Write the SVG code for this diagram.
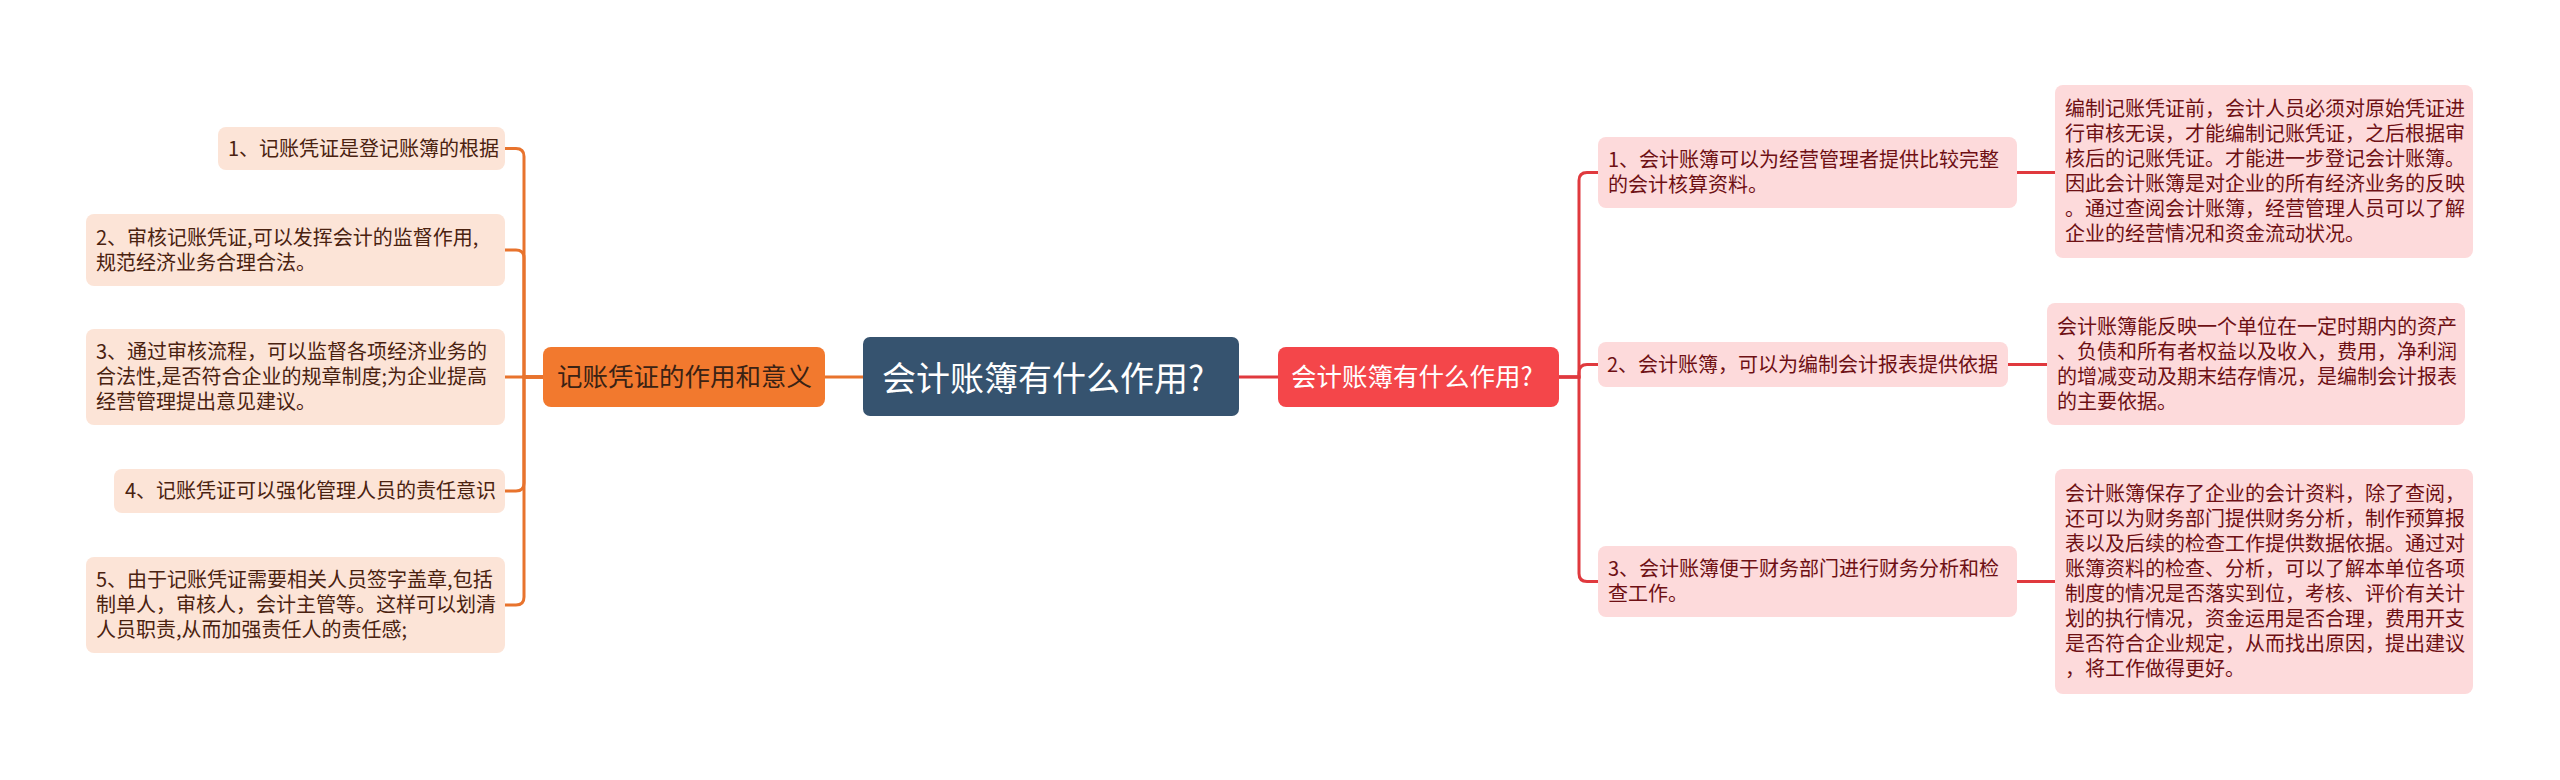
<svg xmlns="http://www.w3.org/2000/svg" width="2560" height="780" viewBox="0 0 2560 780">
<style>
text{font-family:"Noto Sans CJK SC","Noto Sans",sans-serif}
.lc rect{fill:#FCE4D7}
.lc text{fill:#4A2210;font-size:20px}
.rc rect{fill:#FDDADB}
.rc text{fill:#6E1014;font-size:20px}
.ol{fill:none;stroke:#E8732D;stroke-width:3}
.rl{fill:none;stroke:#E0393E;stroke-width:3}
</style>
<rect width="2560" height="780" fill="#ffffff"/>
<g id="connectors">
<path class="ol" d="M864 377 H825"/>
<path class="rl" d="M1239 377 H1279"/>
<path class="ol" d="M544 377 H524 V156.5 Q524 148.5 516 148.5 H505"/>
<path class="ol" d="M544 377 H524 V258 Q524 250 516 250 H505"/>
<path class="ol" d="M544 377 H505"/>
<path class="ol" d="M544 377 H524 V483 Q524 491 516 491 H505"/>
<path class="ol" d="M544 377 H524 V597 Q524 605 516 605 H505"/>
<path class="rl" d="M1559 377 H1579 V180.5 Q1579 172.5 1587 172.5 H1598"/>
<path class="rl" d="M1559 377 H1579 V372.5 Q1579 364.5 1587 364.5 H1598"/>
<path class="rl" d="M1559 377 H1579 V573.5 Q1579 581.5 1587 581.5 H1598"/>
<path class="rl" d="M2017 172.5 H2055"/>
<path class="rl" d="M2008 364.5 H2047"/>
<path class="rl" d="M2017 581.5 H2055"/>
</g>
<g id="root">
<rect x="863" y="337" width="376" height="79" rx="7" fill="#36536F"/>
<text x="882" y="391" font-size="34" fill="#ffffff">会计账簿有什么作用?</text>
</g>
<g id="left-main">
<rect x="543" y="347" width="282" height="60" rx="8" fill="#F2792E"/>
<text x="557" y="386" font-size="25.5" fill="#3A2214">记账凭证的作用和意义</text>
</g>
<g id="right-main">
<rect x="1278" y="347" width="281" height="60" rx="8" fill="#F4464A"/>
<text x="1291" y="386" font-size="25.5" fill="#ffffff">会计账簿有什么作用?</text>
</g>
<g id="l1" class="lc">
<rect x="218" y="127" width="287" height="43" rx="8"/>
<text x="228" y="155.5">1、记账凭证是登记账簿的根据</text>
</g>
<g id="l2" class="lc">
<rect x="86" y="214" width="419" height="72" rx="8"/>
<text x="96" y="244.5">2、审核记账凭证,可以发挥会计的监督作用,</text>
<text x="96" y="269.5">规范经济业务合理合法。</text>
</g>
<g id="l3" class="lc">
<rect x="86" y="329" width="419" height="96" rx="8"/>
<text x="96" y="359">3、通过审核流程，可以监督各项经济业务的</text>
<text x="96" y="384">合法性,是否符合企业的规章制度;为企业提高</text>
<text x="96" y="409">经营管理提出意见建议。</text>
</g>
<g id="l4" class="lc">
<rect x="114" y="469" width="391" height="44" rx="8"/>
<text x="125" y="498">4、记账凭证可以强化管理人员的责任意识</text>
</g>
<g id="l5" class="lc">
<rect x="86" y="557" width="419" height="96" rx="8"/>
<text x="96" y="587">5、由于记账凭证需要相关人员签字盖章,包括</text>
<text x="96" y="612">制单人，审核人，会计主管等。这样可以划清</text>
<text x="96" y="637">人员职责,从而加强责任人的责任感;</text>
</g>
<g id="r1" class="rc">
<rect x="1598" y="137" width="419" height="71" rx="8"/>
<text x="1608" y="167">1、会计账簿可以为经营管理者提供比较完整</text>
<text x="1608" y="192">的会计核算资料。</text>
</g>
<g id="r2" class="rc">
<rect x="1598" y="342" width="410" height="45" rx="8"/>
<text x="1607" y="372">2、会计账簿，可以为编制会计报表提供依据</text>
</g>
<g id="r3" class="rc">
<rect x="1598" y="546" width="419" height="71" rx="8"/>
<text x="1608" y="576">3、会计账簿便于财务部门进行财务分析和检</text>
<text x="1608" y="601">查工作。</text>
</g>
<g id="d1" class="rc">
<rect x="2055" y="85" width="418" height="173" rx="8"/>
<text x="2065" y="116">编制记账凭证前，会计人员必须对原始凭证进</text>
<text x="2065" y="141">行审核无误，才能编制记账凭证，之后根据审</text>
<text x="2065" y="166">核后的记账凭证。才能进一步登记会计账簿。</text>
<text x="2065" y="191">因此会计账簿是对企业的所有经济业务的反映</text>
<text x="2065" y="216">。通过查阅会计账簿，经营管理人员可以了解</text>
<text x="2065" y="241">企业的经营情况和资金流动状况。</text>
</g>
<g id="d2" class="rc">
<rect x="2047" y="303" width="418" height="122" rx="8"/>
<text x="2057" y="333.5">会计账簿能反映一个单位在一定时期内的资产</text>
<text x="2057" y="358.5">、负债和所有者权益以及收入，费用，净利润</text>
<text x="2057" y="383.5">的增减变动及期末结存情况，是编制会计报表</text>
<text x="2057" y="408.5">的主要依据。</text>
</g>
<g id="d3" class="rc">
<rect x="2055" y="469" width="418" height="225" rx="8"/>
<text x="2065" y="501">会计账簿保存了企业的会计资料，除了查阅，</text>
<text x="2065" y="526">还可以为财务部门提供财务分析，制作预算报</text>
<text x="2065" y="551">表以及后续的检查工作提供数据依据。通过对</text>
<text x="2065" y="576">账簿资料的检查、分析，可以了解本单位各项</text>
<text x="2065" y="601">制度的情况是否落实到位，考核、评价有关计</text>
<text x="2065" y="626">划的执行情况，资金运用是否合理，费用开支</text>
<text x="2065" y="651">是否符合企业规定，从而找出原因，提出建议</text>
<text x="2065" y="676">，将工作做得更好。</text>
</g>
</svg>
